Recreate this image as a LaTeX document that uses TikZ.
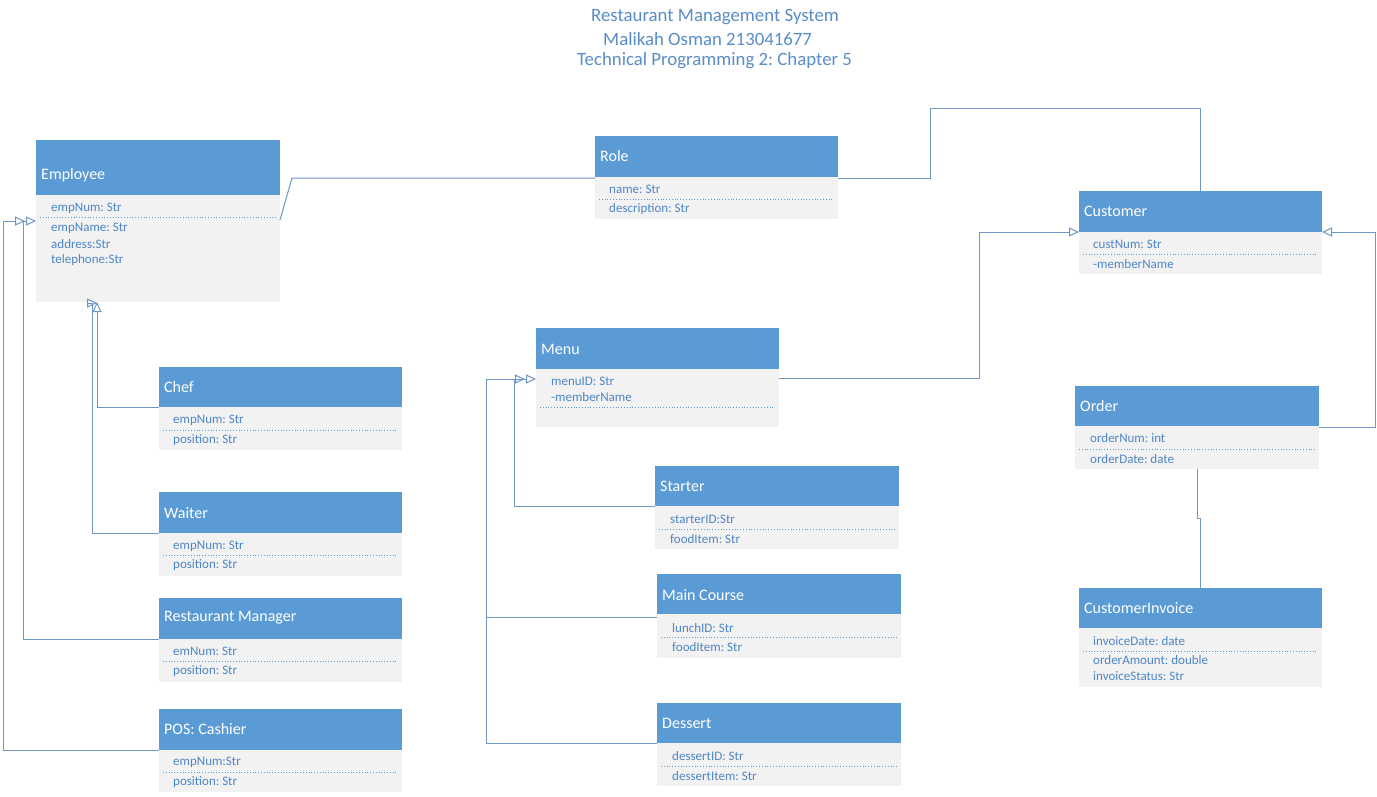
\documentclass[tikz,border=0pt]{standalone}
\usepackage{fontspec}
\setmainfont{Carlito}
\usetikzlibrary{arrows.meta,calc}
\definecolor{hdrblue}{HTML}{5B9BD5}
\definecolor{bodygray}{HTML}{F2F2F2}
\definecolor{txtblue}{HTML}{4F86C6}
\definecolor{ttlblue}{HTML}{5A8DC8}
\definecolor{lineblue}{HTML}{6F96C8}
\newcommand\umlbox[6]{%
  \node[hdr,minimum width=#3pt,minimum height=#5pt,anchor=north west] (#1) at (#2,#4) {};
  \node[bodybox,minimum width=#3pt,minimum height=#6pt,anchor=north west] (#1b) at (#1.south west) {};
}
\frenchspacing
\begin{document}
\begin{tikzpicture}[x=1pt,y=-1pt,
 hdr/.style={fill=hdrblue,draw=none,inner sep=0,outer sep=0},
 bodybox/.style={fill=bodygray,draw=none,inner sep=0,outer sep=0},
 htxt/.style={text=white,font=\fontsize{16}{18}\selectfont,inner sep=0,anchor=west},
 atxt/.style={text=txtblue,font=\fontsize{13}{15}\selectfont,inner sep=0,anchor=west},
 sep/.style={draw=hdrblue,dotted,line width=0.8pt},
 conn/.style={draw=lineblue,line width=1pt},
 gen/.style={conn,-{Triangle[open,length=10pt,width=9pt]}},
 ttl/.style={text=ttlblue,font=\fontsize{18.8}{22}\selectfont,inner sep=0,anchor=west}
]
\useasboundingbox (0,0) rectangle (1377,796);
\fill[white] (0,0) rectangle (1377,796);

% title
\node[ttl] (t1) at (591,17) {Restaurant Management System};
\node[ttl] (t2) at (603,39) {Malikah Osman 213041677};
\node[ttl] (t3) at (577,61) {Technical Programming 2: Chapter 5};

% boxes
\umlbox{emp}{36}{244}{140}{55}{107}
\umlbox{role}{595}{243}{136}{41}{42}
\umlbox{cust}{1079}{243}{191}{41}{42}
\umlbox{order}{1075}{244}{386}{40}{43}
\umlbox{inv}{1079}{243}{588}{40}{59}
\umlbox{menu}{536}{243}{328}{41}{58}
\umlbox{start}{655}{244}{466}{40}{43}
\umlbox{main}{657}{244}{574}{40}{44}
\umlbox{dess}{657}{244}{703}{40}{43}
\umlbox{chef}{159}{243}{367}{40}{43}
\umlbox{waiter}{159}{243}{492}{41}{43}
\umlbox{mgr}{159}{243}{598}{41}{43}
\umlbox{pos}{159}{243}{709}{41}{42}

% headers
\node[htxt] (empT) at (41,175) {Employee};
\node[htxt] (roleT) at (600,156) {Role};
\node[htxt] (custT) at (1084,211) {Customer};
\node[htxt] (orderT) at (1080,406) {Order};
\node[htxt] (invT) at (1084,608) {CustomerInvoice};
\node[htxt] (menuT) at (541,349) {Menu};
\node[htxt] (startT) at (660,486) {Starter};
\node[htxt] (mainT) at (662,595) {Main Course};
\node[htxt] (dessT) at (662,723) {Dessert};
\node[htxt] (chefT) at (164,387) {Chef};
\node[htxt] (waiterT) at (164,513) {Waiter};
\node[htxt] (mgrT) at (164,618) {Restaurant Manager};
\node[htxt] (posT) at (164,729) {POS: Cashier};

% attributes
\node[atxt] (e1) at (51,208) {empNum: Str};
\draw[sep] (40,217) -- (276,217);
\node[atxt] (e2) at (51,228) {empName: Str};
\node[atxt] (e3) at (51,244) {address:Str};
\node[atxt] (e4) at (51,260) {telephone:Str};

\node[atxt] (r1) at (609,189) {name: Str};
\draw[sep] (599,199) -- (834,199);
\node[atxt] (r2) at (609,209) {description: Str};

\node[atxt] (c1) at (1093,244) {custNum: Str};
\draw[sep] (1083,254) -- (1318,254);
\node[atxt] (c2) at (1093,264) {-memberName};

\node[atxt] (o1) at (1090,438) {orderNum: int};
\draw[sep] (1079,449) -- (1315,449);
\node[atxt] (o2) at (1090,459) {orderDate: date};

\node[atxt] (i1) at (1093,641) {invoiceDate: date};
\draw[sep] (1083,651) -- (1318,651);
\node[atxt] (i2) at (1093,660) {orderAmount: double};
\node[atxt] (i3) at (1093,676) {invoiceStatus: Str};

\node[atxt] (m1) at (551,381) {menuID: Str};
\node[atxt] (m2) at (551,397) {-memberName};
\draw[sep] (540,407) -- (775,407);

\node[atxt] (s1) at (670,519) {starterID:Str};
\draw[sep] (659,529) -- (895,529);
\node[atxt] (s2) at (670,539) {foodItem: Str};

\node[atxt] (mc1) at (672,628) {lunchID: Str};
\draw[sep] (661,637) -- (897,637);
\node[atxt] (mc2) at (672,647) {foodItem: Str};

\node[atxt] (d1) at (672,756) {dessertID: Str};
\draw[sep] (661,766) -- (897,766);
\node[atxt] (d2) at (672,776) {dessertItem: Str};

\node[atxt] (ch1) at (173,420) {empNum: Str};
\draw[sep] (163,430) -- (398,430);
\node[atxt] (ch2) at (173,440) {position: Str};

\node[atxt] (w1) at (173,546) {empNum: Str};
\draw[sep] (163,555) -- (398,555);
\node[atxt] (w2) at (173,565) {position: Str};

\node[atxt] (g1) at (173,651) {emNum: Str};
\draw[sep] (163,661) -- (398,661);
\node[atxt] (g2) at (173,671) {position: Str};

\node[atxt] (p1) at (173,762) {empNum:Str};
\draw[sep] (163,772) -- (398,772);
\node[atxt] (p2) at (173,782) {position: Str};

% connectors
\draw[conn] ([yshift=-25pt]empb.north east) -- (292,178) -- ([yshift=-1pt]role.south west);
\draw[conn] ([yshift=-1pt]role.south east) -- ++(92,0) |- (cust.north |- 0,108) -- (cust.north);
\draw[gen] (chefb.north west) -| ([xshift=61pt]empb.south west);
\draw[gen] (waiterb.north west) -- ++(-67,0) |- ([xshift=61pt,yshift=-1pt]empb.south west);
\draw[gen] (mgrb.north west) -- ++(-136,0) |- ([yshift=-26pt]empb.north west);
\draw[gen] (posb.north west) -- ++(-156,0) |- ([xshift=-11pt,yshift=-26pt]empb.north west);
\draw[gen] (startb.north west) -- ++(-141,0) |- ([yshift=-10pt]menub.north west);
\draw[conn] ([yshift=-3pt]mainb.north west) -- ++(-171,0);
\draw[gen] (dessb.north west) -- ++(-171,0) |- ([xshift=-11pt,yshift=-10pt]menub.north west);
\draw[gen] ([yshift=-9pt]menub.north east) -- ++(200,0) |- (custb.north west);
\draw[gen] ([yshift=-1pt]orderb.north east) -- ++(56,0) |- (custb.north east);
\draw[conn] (orderb.south) -- ++(0,49) -| (inv.north);
\end{tikzpicture}
\end{document}
